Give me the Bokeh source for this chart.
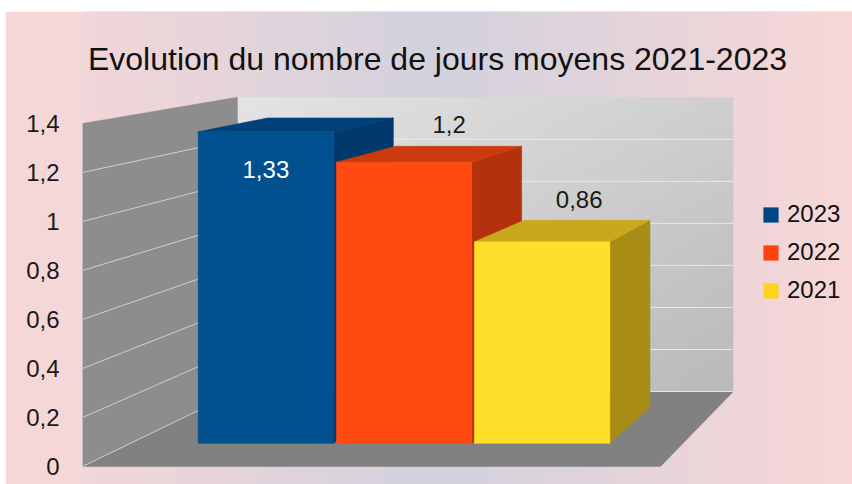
import numpy as np
from bokeh.plotting import figure
from bokeh.models import Range1d, FixedTicker, Legend, LegendItem, ColumnDataSource, Spacer
from bokeh.layouts import column, row
from bokeh.core.properties import value
from bokeh.embed import file_html
from bokeh.resources import INLINE

# ---------------- data ----------------
title = "Evolution du nombre de jours moyens 2021-2023"
series = ["2023", "2022", "2021"]
values = [1.33, 1.2, 0.86]
y_ticks = [0, 0.2, 0.4, 0.6, 0.8, 1.0, 1.2, 1.4]
tick_labels = ["0", "0,2", "0,4", "0,6", "0,8", "1", "1,2", "1,4"]
legend_colors = ["#004586", "#ff420e", "#ffd320"]
front_colors = ["#01508f", "#ff4a12", "#ffdf2a"]
top_colors = ["#00417a", "#cc3a0e", "#c9a81d"]
side_colors = ["#00396c", "#b3320c", "#a98c15"]
label_inside = [True, False, False]

# ---------------- geometry / style ----------------
FONT = "Liberation Sans"
PX_SLOT = 144.5          # px per category slot on the front plane
PX_VAL = 245.0           # px per value unit on the front plane
FRAME_W, FRAME_H = 770, 473
ZERO_FROM_BOTTOM = 18    # px
VPX, VPV = 7.55, 2.155   # vanishing point (data units)
S_FLOOR, S_BAR_F, S_BAR_B, S_WALL = 1.0, 0.956, 0.888, 0.858
N_SLOTS = 4
BAR_W = 0.98
BAR_SHIFT = -0.02
VMAX = y_ticks[-1]

x0, x1 = 0.0, FRAME_W / PX_SLOT
y0 = -ZERO_FROM_BOTTOM / PX_VAL
y1 = (FRAME_H - ZERO_FROM_BOTTOM) / PX_VAL


def proj(X, V, s):
    return VPX + s * (X - VPX), VPV + s * (V - VPV)


def poly(pts):
    xs, ys = zip(*[proj(*p) for p in pts])
    return list(xs), list(ys)


p = figure(width=847, height=473, output_backend="svg", toolbar_location=None,
           x_range=Range1d(x0, x1), y_range=Range1d(y0, y1),
           x_axis_location=None, min_border_left=77, min_border_right=0,
           min_border_top=0, min_border_bottom=0)
p.grid.visible = False
p.outline_line_color = None
p.border_fill_color = "#f5d7d8"
p.background_fill_color = "#e6d6dc"

# background gradient (frame area)
cols = 400
img = np.empty((2, cols), dtype=np.uint32)
view = img.view(dtype=np.uint8).reshape((2, cols, 4))
edge = np.array([250, 215, 215], float)
center = np.array([210, 210, 222], float)
for j in range(cols):
    px = 82 + (j + 0.5) * FRAME_W / cols
    t = min(abs(px - 435) / 430.0, 1.0)
    c = center + (edge - center) * t
    view[:, j, 0:3] = c.astype(np.uint8)
    view[:, j, 3] = 255
p.image_rgba(image=[img], x=x0, y=y0, dw=x1 - x0, dh=y1 - y0)

# back wall gradient
bx0, bv0 = proj(0, 0, S_WALL)
bx1, bv1 = proj(N_SLOTS, VMAX, S_WALL)
R, C = 60, 100
wimg = np.empty((R, C), dtype=np.uint32)
wv = wimg.view(dtype=np.uint8).reshape((R, C, 4))
for r in range(R):
    for cc in range(C):
        u = cc / (C - 1)
        w = r / (R - 1)          # 0 bottom, 1 top
        t = (u + (1 - w)) / 2
        g = 228 - 42 * t
        wv[r, cc, 0:3] = int(g)
        wv[r, cc, 3] = 255
p.image_rgba(image=[wimg], x=bx0, y=bv0, dw=bx1 - bx0, dh=bv1 - bv0)

# left wall
lx, ly = poly([(0, 0, S_FLOOR), (0, VMAX, S_FLOOR), (0, VMAX, S_WALL), (0, 0, S_WALL)])
p.patch(lx, ly, fill_color="#8d8d8d", line_color="#8d8d8d", line_width=0.5)
# floor
fx, fy = poly([(0, 0, S_FLOOR), (N_SLOTS, 0, S_FLOOR), (N_SLOTS, 0, S_WALL), (0, 0, S_WALL)])
p.patch(fx, fy, fill_color="#818181", line_color="#818181", line_width=0.5)

# grid lines
gl_xs, gl_ys, gb_xs, gb_ys = [], [], [], []
for v in y_ticks[:-1]:
    a, b = poly([(0, v, S_FLOOR), (0, v, S_WALL)])
    gl_xs.append(a); gl_ys.append(b)
    a, b = poly([(0, v, S_WALL), (N_SLOTS, v, S_WALL)])
    gb_xs.append(a); gb_ys.append(b)
p.multi_line(gl_xs, gl_ys, line_color="#cfcfcf", line_width=1)
p.multi_line(gb_xs, gb_ys, line_color="#e9e9e9", line_width=1)

# bars
side = dict(xs=[], ys=[], c=[])
top = dict(xs=[], ys=[], c=[])
front = dict(xs=[], ys=[], c=[], lc=[])
lab = dict(x=[], y=[], t=[], c=[])
for i, v in enumerate(values):
    cx = i + 1 + BAR_SHIFT
    xl, xr = cx - BAR_W / 2, cx + BAR_W / 2
    a, b = poly([(xr, 0, S_BAR_F), (xr, v, S_BAR_F), (xr, v, S_BAR_B), (xr, 0, S_BAR_B)])
    side["xs"].append(a); side["ys"].append(b); side["c"].append(side_colors[i])
    a, b = poly([(xl, v, S_BAR_F), (xr, v, S_BAR_F), (xr, v, S_BAR_B), (xl, v, S_BAR_B)])
    top["xs"].append(a); top["ys"].append(b); top["c"].append(top_colors[i])
    a, b = poly([(xl, 0, S_BAR_F), (xr, 0, S_BAR_F), (xr, v, S_BAR_F), (xl, v, S_BAR_F)])
    front["xs"].append(a); front["ys"].append(b); front["c"].append(front_colors[i])
    front["lc"].append(legend_colors[i])
    txt = f"{v:g}".replace(".", ",")
    if label_inside[i]:
        lxp, lyp = proj(cx, v, S_BAR_F)
        lyp -= 38 / PX_VAL
        col = "#ffffff"
    else:
        lxp, lyp = proj(cx, v, 0.90)
        lyp += 25 / PX_VAL
        col = "#1a1a1a"
    lab["x"].append(lxp); lab["y"].append(lyp); lab["t"].append(txt); lab["c"].append(col)

p.patches("xs", "ys", source=ColumnDataSource(side), fill_color="c", line_color="c", line_width=0.6)
p.patches("xs", "ys", source=ColumnDataSource(top), fill_color="c", line_color="c", line_width=0.6)
front_r = p.patches("xs", "ys", source=ColumnDataSource(front), fill_color="c",
                    line_color="c", line_width=0.6)

p.text("x", "y", text="t", source=ColumnDataSource(lab), text_color="c",
       text_font=value(FONT), text_font_size="24px", text_align="center",
       text_baseline="middle")

# title
p.text(x=[(437 - 82) / PX_SLOT], y=[(466 - 58) / PX_VAL], text=[title],
       text_font=value(FONT), text_font_size="32px", text_color="#111111",
       text_align="center", text_baseline="middle")

# y axis
ax = p.yaxis[0]
ax.ticker = FixedTicker(ticks=y_ticks)
ax.major_label_overrides = dict(zip(y_ticks, tick_labels))
ax.axis_line_color = None
ax.major_tick_line_color = None
ax.minor_tick_line_color = None
ax.major_label_text_font = FONT
ax.major_label_text_font_size = "24px"
ax.major_label_text_color = "#1a1a1a"
ax.major_label_standoff = 17

# legend (swatches use the legend colour of each series via a hidden copy)
leg_src = ColumnDataSource(dict(xs=front["xs"], ys=front["ys"], lc=front["lc"]))
leg_r = p.patches("xs", "ys", source=leg_src, fill_color="lc", line_color=None, fill_alpha=1.0)
leg_r.visible = True
items = [LegendItem(label=name, renderers=[leg_r], index=i) for i, name in enumerate(series)]
p.renderers.remove(leg_r)
p.renderers.insert(0, leg_r)
leg = Legend(items=items, location=(679, 180), orientation="vertical",
             glyph_width=19, glyph_height=19, label_standoff=7,
             label_text_font=FONT, label_text_font_size="24px", label_text_color="#111111",
             label_height=25, spacing=10, padding=0, margin=0,
             border_line_color=None, background_fill_alpha=0)
p.add_layout(leg)

layout = column(Spacer(height=11), row(Spacer(width=5), p))
open("out.html", "w").write(file_html(layout, INLINE))
